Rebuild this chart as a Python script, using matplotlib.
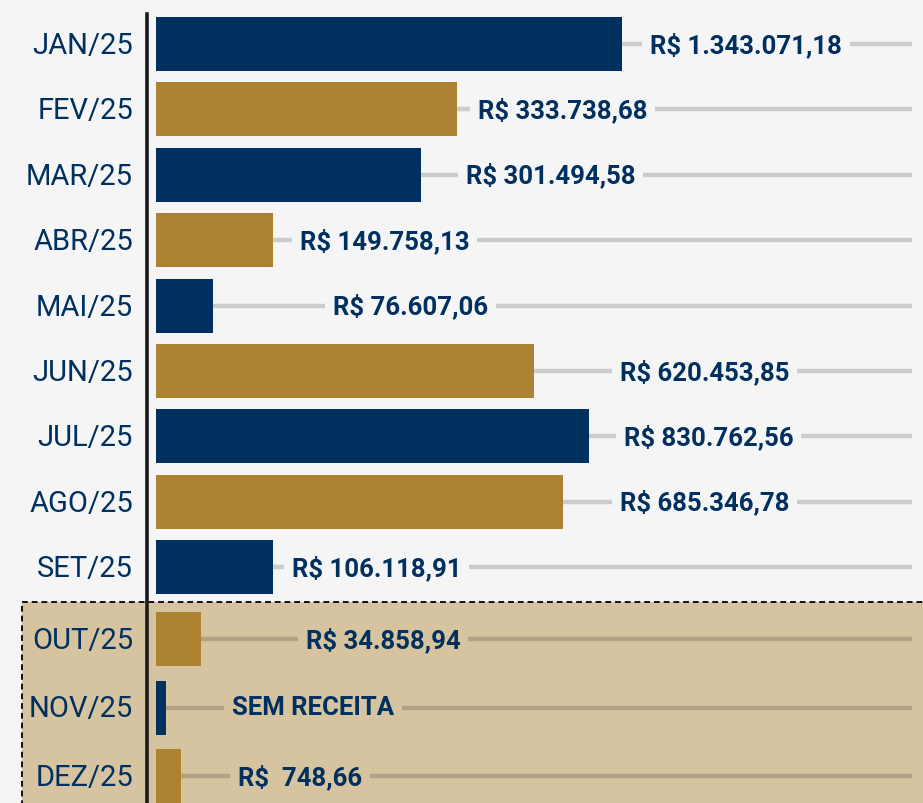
import matplotlib
matplotlib.use('agg')
import matplotlib.pyplot as plt
from matplotlib.patches import Rectangle

# meses e receitas (texto) - comprimento das barras (escala do infografico)
meses = ['JAN/25', 'FEV/25', 'MAR/25', 'ABR/25', 'MAI/25', 'JUN/25',
         'JUL/25', 'AGO/25', 'SET/25', 'OUT/25', 'NOV/25', 'DEZ/25']
receitas = ['R$ 1.343.071,18', 'R$ 333.738,68', 'R$ 301.494,58', 'R$ 149.758,13',
            'R$ 76.607,06', 'R$ 620.453,85', 'R$ 830.762,56', 'R$ 685.346,78',
            'R$ 106.118,91', 'R$ 34.858,94', 'SEM RECEITA', 'R$  748,66']
barras = [466, 301, 265, 117, 57, 378, 433, 407, 117, 45, 10, 25]

navy = '#00305f'
gold = '#ad8231'
bg = '#f5f5f5'
tan = '#d6c3a0'

plt.rcParams['font.family'] = ['Roboto', 'DejaVu Sans']

fig = plt.figure(figsize=(9.23, 8.04), dpi=100)
fig.patch.set_facecolor(bg)
ax = fig.add_axes([0, 0, 1, 1])
ax.set_facecolor(bg)
ax.set_xlim(-156, 767)
ax.set_ylim(804, 0)
ax.axis('off')

# layout: linhas de cima um pouco mais juntas, area destacada a partir de OUT
n_dest = 9
ys = [45 + i * 65.4 if i < n_dest else 640 + (i - n_dest) * 68.5 for i in range(len(meses))]
# posicao (esquerda) dos rotulos de valor, como no original
label_x = [494, 322, 310, 144, 177, 464, 468, 464, 136, 150, 76, 82]

# area destacada (out-dez)
ax.add_patch(Rectangle((-134, 603), 1000, 400, facecolor=tan, edgecolor='#111111',
                       linestyle=(0, (3, 2)), linewidth=1.4, zorder=1))

for i, m in enumerate(meses):
    y = ys[i]
    cor = navy if i % 2 == 0 else gold
    destacado = i >= n_dest
    lc = '#b3a285' if destacado else '#cccccc'
    fundo = tan if destacado else bg
    ax.plot([0, 756], [y, y], color=lc, lw=3.2, zorder=2, solid_capstyle='butt')
    ax.barh(y, barras[i], left=0, height=54, color=cor, zorder=3)
    ax.text(-23, y + 1, m, ha='right', va='center', fontsize=21, color=navy, zorder=5)
    ax.text(label_x[i], y, receitas[i], ha='left', va='center', fontsize=18.5,
            fontweight='bold', color=navy, zorder=4,
            bbox=dict(boxstyle='square,pad=0.3', facecolor=fundo, edgecolor='none'))

# eixo vertical
ax.plot([-9, -9], [15, 804], color='#1a1a1a', lw=2.6, zorder=6)

plt.savefig('out.png', dpi=100, facecolor=bg)
